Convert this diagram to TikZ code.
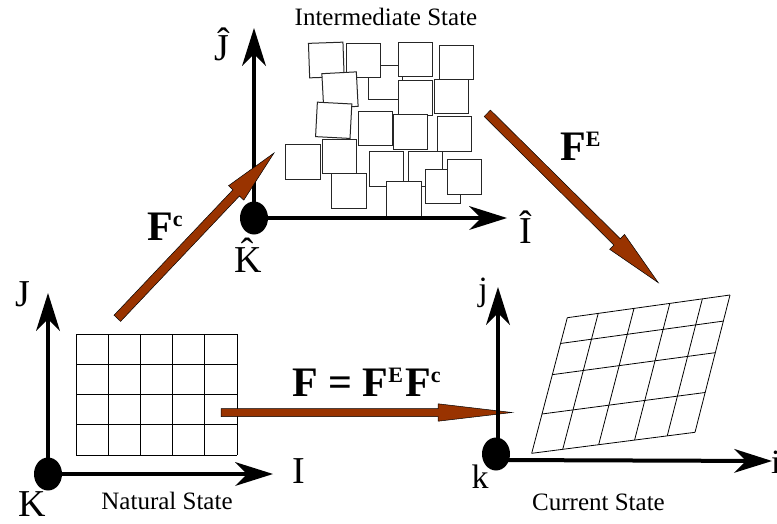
\documentclass[tikz,border=0pt]{standalone}
\usepackage{fontspec}
\setmainfont{Liberation Serif}
\usetikzlibrary{arrows.meta,calc}
\definecolor{arrowbrown}{RGB}{153,51,0}
\newcommand\supr[1]{\raisebox{14pt}{\fontsize{22}{22}\selectfont #1}}
% tail, tip, shaft half width, head half width, head length
\newcommand\brownarrow[5]{%
  \filldraw[fill=arrowbrown, draw=black, line width=0.5pt, line join=miter]
    ($(#1)!#3!90:(#2)$) -- ($(#2)!#5!(#1)!#3!-90:(#1)$) -- ($(#2)!#5!(#1)!#4!-90:(#1)$)
    -- (#2) -- ($(#2)!#5!(#1)!#4!90:(#1)$) -- ($(#2)!#5!(#1)!#3!90:(#1)$)
    -- ($(#1)!#3!-90:(#2)$) -- cycle;}

\begin{document}
\begin{tikzpicture}[x=1pt,y=-1pt,
    axis/.style={line width=4pt,-{Stealth[length=38pt,width=24pt,inset=12pt,line width=0pt]}},
    origin/.style={fill=black},
    gridline/.style={line width=0.8pt},
    tile/.style={draw=black!85, fill=white, line width=1pt, minimum size=34.5pt, inner sep=0pt, outer sep=0pt},
    biglabel/.style={font=\fontsize{38}{38}\selectfont, inner sep=0pt},
    smalllabel/.style={font=\fontsize{34}{34}\selectfont, inner sep=0pt},
    statelabel/.style={font=\fontsize{25}{25}\selectfont, inner sep=0pt},
    flabel/.style={font=\fontsize{42}{42}\selectfont\bfseries, inner sep=0pt, anchor=base west}]
	\useasboundingbox (0,0) rectangle (777,523);

	\coordinate (natO) at (48,474);
	\coordinate (natJ) at (48,293);
	\coordinate (natI) at (273,474);
	\coordinate (intO) at (254,218);
	\coordinate (intJ) at (254,28);
	\coordinate (intI) at (507,218);
	\coordinate (curO) at (498,460);
	\coordinate (curJ) at (498,287);
	\coordinate (curI) at (772,461);

	\foreach \i in {0,...,5} \draw[gridline] (76+\i*32.2,334) -- (76+\i*32.2,455);
	\foreach \j in {0,...,4} \draw[gridline] (76,334+\j*30.25) -- (237,334+\j*30.25);

	\coordinate (cBL) at (531.7,453.3);
	\coordinate (cBR) at (695,432.3);
	\coordinate (cTR) at (730,295);
	\coordinate (cTL) at (567.3,317.7);
	\foreach \u in {0,.19,.41,.63,.83,1} \draw[gridline] ($(cBL)!\u!(cBR)$) -- ($(cTL)!\u!(cTR)$);
	\foreach \v in {0,.29,.58,.81,1} \draw[gridline] ($(cBL)!\v!(cTL)$) -- ($(cBR)!\v!(cTR)$);

	\foreach \x/\y/\r [count=\i] in {326.3/60/2, 385.3/82.7/0, 363.7/60.3/0, 415.7/59.3/0, 456.7/62.7/0,
	    340/90/3, 415.7/98/0, 451.3/96.3/0, 333.7/120.3/-3, 375.3/128.7/0, 410.7/132/0, 454.3/134/0,
	    303/162/0, 339.3/156.7/0, 349/191/0, 386.7/169/0, 425.3/169/0, 443/186.7/0, 464.7/177/0, 404/199/0}
	    \node[tile, rotate=\r] (tile\i) at (\x,\y) {};

	\coordinate (fTail) at (221,412.5);
	\coordinate (fTip) at (512,412.5);
	\brownarrow{fTail}{fTip}{4pt}{8.7pt}{74pt}

	\draw[axis] (natO) -- (natJ);
	\draw[axis] (natO) -- (natI);
	\fill[origin] (natO) ellipse [x radius=14pt, y radius=16.5pt];
	\draw[axis] (intO) -- (intJ);
	\draw[axis] (intO) -- (intI);
	\fill[origin] (intO) ellipse [x radius=14pt, y radius=16.5pt];
	\draw[axis] (curO) -- (curJ);
	\draw[axis] (curO) -- (curI);
	\fill[origin] (496,454) ellipse [x radius=14pt, y radius=16.5pt];

	\coordinate (fcTail) at (117.3,318.3);
	\coordinate (fcTip) at (274,153);
	\brownarrow{fcTail}{fcTip}{4.5pt}{10.5pt}{55pt}
	\coordinate (feTail) at (487.3,113.3);
	\coordinate (feTip) at (658.3,282.7);
	\brownarrow{feTail}{feTip}{4.5pt}{10.5pt}{58pt}

	\node[biglabel, anchor=base] (natJl) at (23,306) {J};
	\node[biglabel, anchor=base] (natIl) at (299,483) {I};
	\node[biglabel, anchor=base] (natKl) at (32,516) {K};
	\node[biglabel, anchor=base] (intJl) at (222,60) {\^{J}};
	\node[biglabel, anchor=base] (intIl) at (526,243) {\^{I}};
	\node[biglabel, anchor=base] (intKl) at (248,272) {\^{K}};
	\node[smalllabel, anchor=base] (curJl) at (483,300) {j};
	\node[smalllabel, anchor=base] (curKl) at (480,488) {k};
	\node[smalllabel, anchor=base west] (curIl) at (771,473) {i};

	\node[statelabel, anchor=base] (natural) at (167,509) {Natural State};
	\node[statelabel, anchor=base] (intermediate) at (386,25) {Intermediate State};
	\node[statelabel, anchor=base] (current) at (598.5,510) {Current State};

	\node[flabel] (fcl) at (147,240) {F\supr{c}};
	\node[flabel] (fel) at (560,160) {F\supr{E}};
	\node[flabel] (fl) at (292,396) {F = F\supr{E}\kern2pt F\supr{c}};
\end{tikzpicture}
\end{document}
